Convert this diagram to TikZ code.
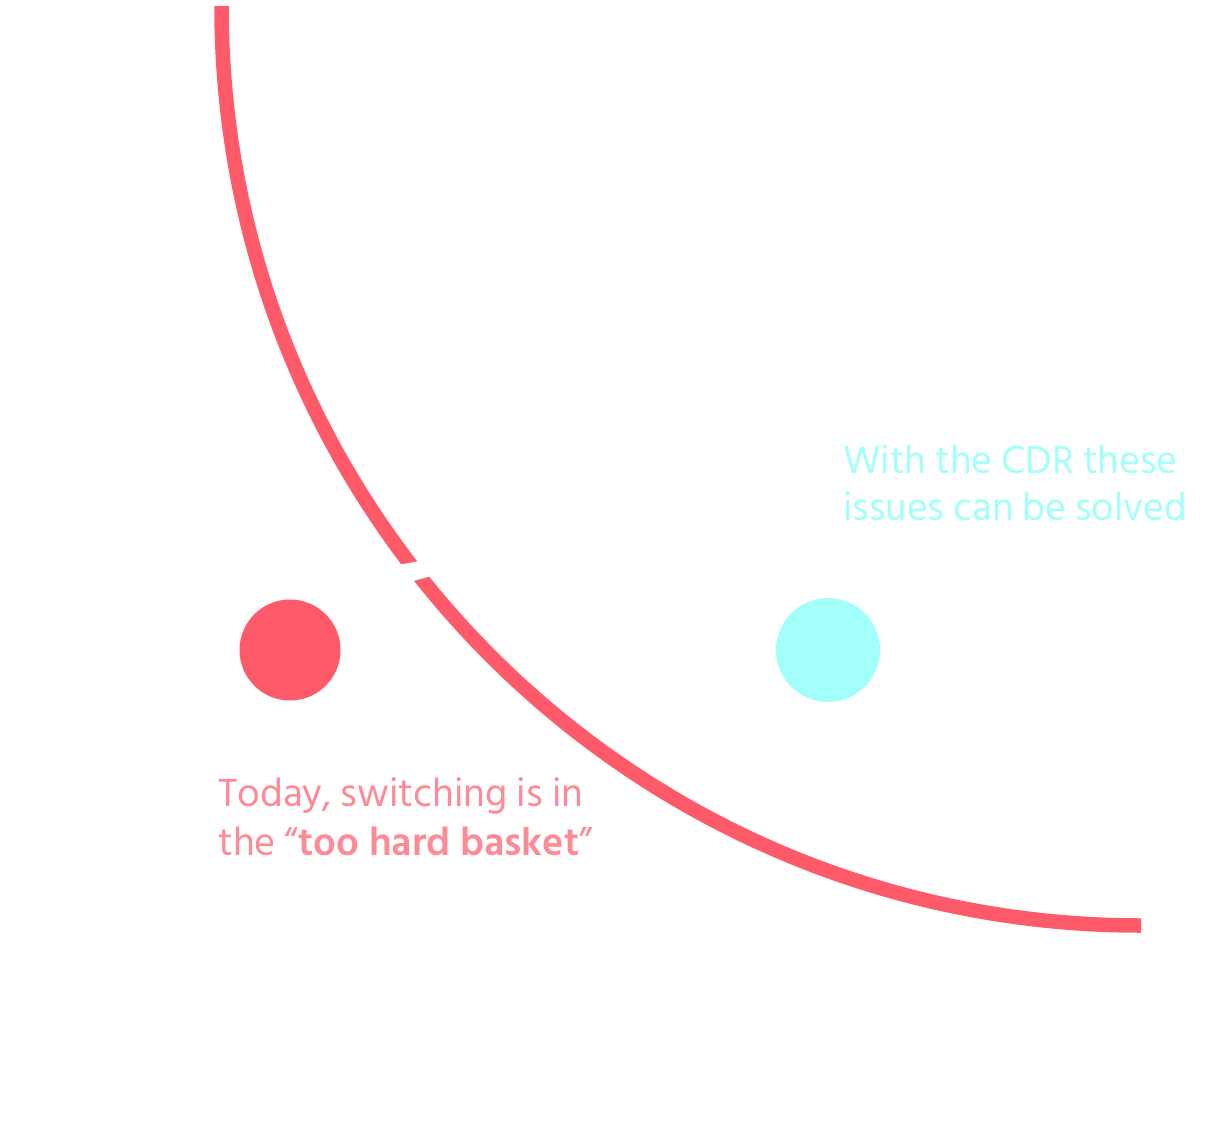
\documentclass[tikz,border=0pt]{standalone}
\usepackage{fontspec}
\setmainfont{Hind Siliguri}
\definecolor{arcpink}{HTML}{FF5A6A}
\definecolor{txtpink}{HTML}{FF8A95}
\definecolor{aqua}{HTML}{A3FFF9}
\begin{document}
\begin{tikzpicture}[x=1pt,y=1pt,
  dot/.style={circle,inner sep=0pt,minimum size=#1},
  pinktext/.style={anchor=base west,inner sep=0pt,text=txtpink,font=\fontsize{40.3}{49}\selectfont},
  aquatext/.style={anchor=base west,inner sep=0pt,text=aqua,font=\fontsize{40}{47}\selectfont}]
\useasboundingbox (0,0) rectangle (1214,-1123);
\fill[white] (0,0) rectangle (1214,-1123);
% big arc
\draw[arcpink,line width=14.5pt] (221.5,-6) arc[start angle=180,end angle=270,radius=919.5];
% gap
\fill[white] (390,-566.4) -- (435,-558.3) -- (445,-572.3) -- (400,-584.6) -- cycle;
% dots
\node[dot=101,fill=arcpink] (left) at (290,-650) {};
\node[dot=104,fill=aqua] (right) at (828,-650) {};
% texts
\node[pinktext] (t1) at (218,-806) {Today, switching is in};
\node[pinktext] (t2) at (218,-855) {the “\textbf{too hard basket}”};
\node[aquatext] (c1) at (843,-473) {With the CDR these};
\node[aquatext] (c2) at (843,-520) {issues can be solved};
\end{tikzpicture}
\end{document}
